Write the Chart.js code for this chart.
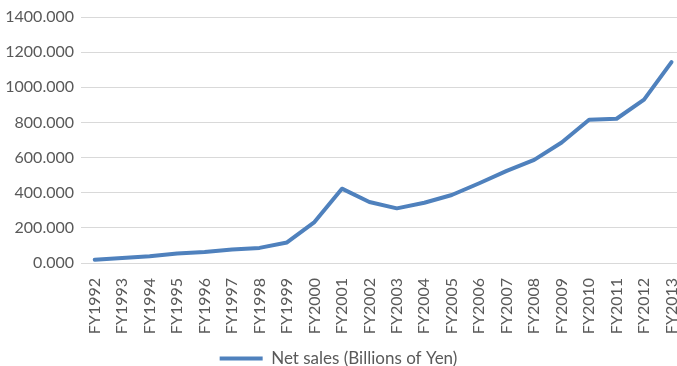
<!DOCTYPE html>
<html>
<head>
<meta charset="utf-8">
<script src="https://cdn.jsdelivr.net/npm/chart.js@4"></script>
<style>
  html, body { margin: 0; padding: 0; background: #fff; }
  #wrap { width: 677px; height: 366px; }
</style>
</head>
<body>
<div id="wrap"><canvas id="myChart"></canvas></div>
<script>
// setup
const years = ['FY1992', 'FY1993', 'FY1994', 'FY1995', 'FY1996', 'FY1997', 'FY1998', 'FY1999',
  'FY2000', 'FY2001', 'FY2002', 'FY2003', 'FY2004', 'FY2005', 'FY2006', 'FY2007',
  'FY2008', 'FY2009', 'FY2010', 'FY2011', 'FY2012', 'FY2013'];
const netSales = [19, 28, 38, 54, 63, 77, 86, 117, 233, 423, 347, 311, 343, 387, 454, 524,
  587, 686, 815, 821, 930, 1143];
const yTicks = [0, 200, 400, 600, 800, 1000, 1200, 1400];

const blue = '#4f81bd';
const grey = '#595959';

const data = {
  datasets: [{
    label: 'Net sales (Billions of Yen)',
    data: netSales.map((v, i) => ({ x: i, y: v })),
    borderColor: blue,
    backgroundColor: blue,
    borderWidth: 4,
    borderJoinStyle: 'round',
    borderCapStyle: 'round',
    pointRadius: 0,
    tension: 0,
    fill: false
  }]
};

// config
const config = {
  type: 'line',
  data,
  options: {
    responsive: true,
    maintainAspectRatio: false,
    animation: false,
    // legend sits low, so let its empty lower margin hang past the bottom edge
    layout: { padding: { top: 17, left: 0, right: 0, bottom: -11 } },
    scales: {
      x: {
        type: 'linear',
        min: -0.5,
        max: 21.2,
        // one tick per fiscal year, half a step of room before the first
        afterBuildTicks: scale => {
          scale.ticks = years.map((_, i) => ({ value: i }));
        },
        afterFit: scale => {
          scale.paddingLeft = 0;
          scale.paddingRight = 0;
          scale.height = 87;
        },
        grid: { display: false },
        border: { display: false },
        ticks: {
          autoSkip: false,
          maxRotation: 90,
          minRotation: 90,
          padding: 7,
          color: grey,
          font: { family: 'Lato', size: 16 },
          callback: v => years[v]
        }
      },
      y: {
        min: 0,
        max: 1400,
        afterBuildTicks: scale => {
          scale.ticks = yTicks.map(v => ({ value: v }));
        },
        afterFit: scale => { scale.width = 81; },
        grid: { color: '#d9d9d9', lineWidth: 1, drawTicks: false },
        border: { display: false },
        ticks: {
          padding: 7,
          color: grey,
          font: { family: 'Lato', size: 16 },
          callback: v => v.toFixed(3)
        }
      }
    },
    plugins: {
      tooltip: { enabled: false },
      legend: {
        position: 'bottom',
        labels: {
          color: grey,
          font: { family: 'Lato', size: 17 },
          boxWidth: 43,
          boxHeight: 4,
          padding: 0,
          generateLabels: chart => Chart.defaults.plugins.legend.labels.generateLabels(chart)
            .map(item => Object.assign(item, { lineWidth: 0, fillStyle: blue }))
        }
      }
    }
  }
};

// render init block
const myChart = new Chart(
  document.getElementById('myChart'),
  config
);
</script>
</body>
</html>
